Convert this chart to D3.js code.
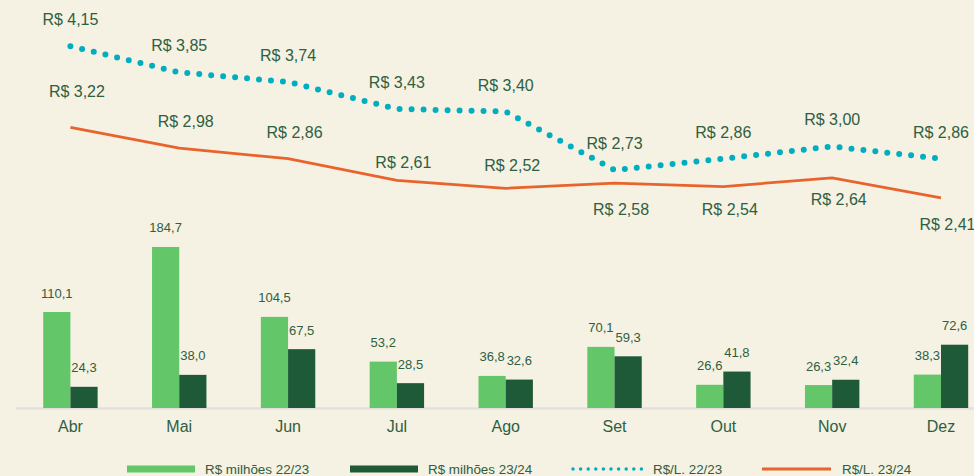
<!DOCTYPE html>
<html>
<head>
<meta charset="utf-8">
<script src="https://cdn.jsdelivr.net/npm/d3@7"></script>
<style>
  body { margin: 0; background: #f5f1e3; }
  svg { display: block; font-family: "Liberation Sans", Arial, sans-serif; }
</style>
</head>
<body>
<svg width="974" height="476"></svg>
<script>
var months = ["Abr", "Mai", "Jun", "Jul", "Ago", "Set", "Out", "Nov", "Dez"];
var milhoes2223 = [110.1, 184.7, 104.5, 53.2, 36.8, 70.1, 26.6, 26.3, 38.3];
var milhoes2324 = [24.3, 38.0, 67.5, 28.5, 32.6, 59.3, 41.8, 32.4, 72.6];
var rsl2223 = [4.15, 3.85, 3.74, 3.43, 3.40, 2.73, 2.86, 3.00, 2.86];
var rsl2324 = [3.22, 2.98, 2.86, 2.61, 2.52, 2.58, 2.54, 2.64, 2.41];

// label placement for the orange series (above / below the line)
var dy2324 = [-30, -21, -21, -12, -17, 32, 28, 27, 32];

var svg = d3.select("svg"),
    textColor = "#2e6040",
    base = 408;

var fmt = function(v, d) { return v.toFixed(d).replace(".", ","); };

var x = d3.scaleBand().domain(months).range([16, 995.4]).paddingInner(0.5).paddingOuter(0.25);
var xs = d3.scaleBand().domain(["a", "b"]).range([0, x.bandwidth()]);
var yBar = d3.scaleLinear().domain([0, 468]).range([base, 0]);
var yLine = d3.scaleLinear().domain([0, 4.68]).range([base, 0]);
var cx = function(m) { return x(m) + x.bandwidth() / 2; };

// baseline
svg.append("line")
    .attr("x1", 16).attr("x2", 974)
    .attr("y1", base + 0.5).attr("y2", base + 0.5)
    .attr("stroke", "#e3e1dc").attr("stroke-width", 2.5);

// bars
var series = [
  {key: "a", values: milhoes2223, color: "#63c76a"},
  {key: "b", values: milhoes2324, color: "#1f5a38"}
];
series.forEach(function(s) {
  var g = svg.append("g");
  g.selectAll("rect")
    .data(s.values)
    .enter().append("rect")
      .attr("x", function(d, i) { return x(months[i]) + xs(s.key); })
      .attr("y", function(d) { return yBar(d); })
      .attr("width", xs.bandwidth())
      .attr("height", function(d) { return base - yBar(d); })
      .attr("fill", s.color);
  g.selectAll("text")
    .data(s.values)
    .enter().append("text")
      .attr("x", function(d, i) { return x(months[i]) + xs(s.key) + xs.bandwidth() / 2; })
      .attr("y", function(d) { return yBar(d) - 14.5; })
      .attr("text-anchor", "middle")
      .attr("font-size", "13px")
      .attr("fill", textColor)
      .text(function(d) { return fmt(d, 1); });
});

// x axis
var xAxis = svg.append("g")
    .attr("transform", "translate(0," + base + ")")
    .call(d3.axisBottom(x).tickSize(0).tickPadding(13));
xAxis.select(".domain").remove();
xAxis.selectAll("text")
    .attr("font-size", "16px")
    .attr("font-family", "Liberation Sans, Arial, sans-serif")
    .attr("fill", textColor);

// lines
var line = function(vals) {
  return d3.line()
    .x(function(d, i) { return cx(months[i]); })
    .y(function(d) { return yLine(d); })(vals);
};

svg.append("path")
    .attr("d", line(rsl2324))
    .attr("fill", "none")
    .attr("stroke", "#e8642c")
    .attr("stroke-width", 2.8);

svg.append("path")
    .attr("d", line(rsl2223))
    .attr("fill", "none")
    .attr("stroke", "#00aec0")
    .attr("stroke-width", 6)
    .attr("stroke-linecap", "round")
    .attr("stroke-dasharray", "0 12");

svg.append("g").selectAll("text")
  .data(rsl2223)
  .enter().append("text")
    .attr("x", function(d, i) { return cx(months[i]); })
    .attr("y", function(d) { return yLine(d) - 21; })
    .attr("text-anchor", "middle")
    .attr("font-size", "16px")
    .attr("fill", textColor)
    .text(function(d) { return "R$ " + fmt(d, 2); });

svg.append("g").selectAll("text")
  .data(rsl2324)
  .enter().append("text")
    .attr("x", function(d, i) { return cx(months[i]) + 6.5; })
    .attr("y", function(d, i) { return yLine(d) + dy2324[i]; })
    .attr("text-anchor", "middle")
    .attr("font-size", "16px")
    .attr("fill", textColor)
    .text(function(d) { return "R$ " + fmt(d, 2); });

// legend
var legend = [
  {label: "R$ milhões 22/23", type: "rect", color: "#63c76a", x: 127},
  {label: "R$ milhões 23/24", type: "rect", color: "#1f5a38", x: 350},
  {label: "R$/L. 22/23", type: "dots", color: "#00aec0", x: 572},
  {label: "R$/L. 23/24", type: "line", color: "#e8642c", x: 762}
];
var lg = svg.append("g").selectAll("g")
  .data(legend)
  .enter().append("g")
    .attr("transform", function(d) { return "translate(" + d.x + ",469)"; });
lg.each(function(d) {
  var g = d3.select(this);
  if (d.type === "rect") {
    g.append("rect").attr("x", 0).attr("y", -3.5).attr("width", 68).attr("height", 7).attr("fill", d.color);
  } else if (d.type === "dots") {
    g.append("line").attr("x1", 1).attr("x2", 70).attr("y1", 0).attr("y2", 0)
      .attr("stroke", d.color).attr("stroke-width", 3.5)
      .attr("stroke-linecap", "round").attr("stroke-dasharray", "0 7.6");
  } else {
    g.append("line").attr("x1", 0).attr("x2", 69).attr("y1", 0).attr("y2", 0)
      .attr("stroke", d.color).attr("stroke-width", 3);
  }
  g.append("text")
    .attr("x", d.type === "rect" ? 78 : (d.type === "dots" ? 81 : 80))
    .attr("y", 4.5)
    .attr("font-size", "13.4px")
    .attr("fill", textColor)
    .text(d.label);
});
</script>
</body>
</html>
